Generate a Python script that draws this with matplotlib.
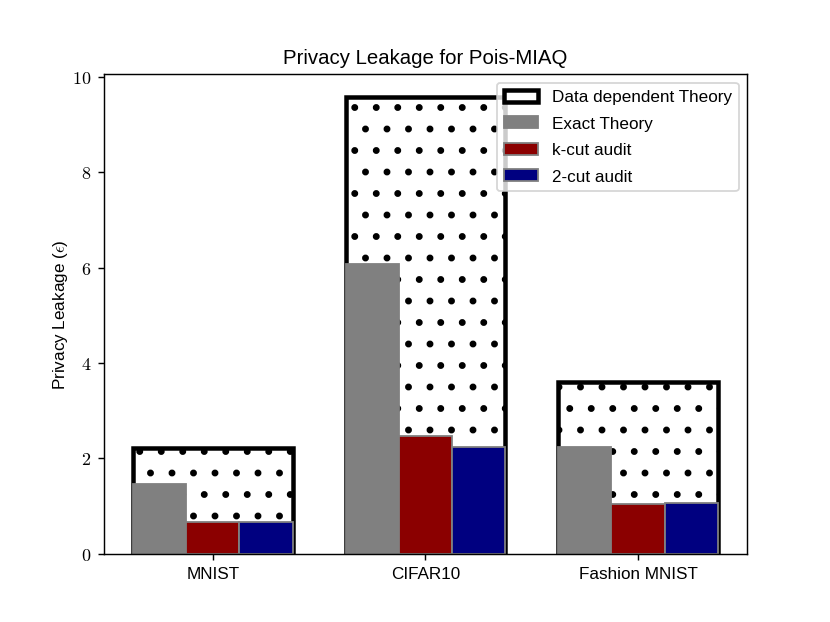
import numpy as np
import matplotlib
matplotlib.use('Agg')
import matplotlib.pyplot as plt
from matplotlib.ticker import FuncFormatter

plt.rcParams['font.family'] = ['Liberation Sans', 'DejaVu Sans']
plt.rcParams['mathtext.fontset'] = 'cm'
plt.rcParams['font.size'] = 9.5
plt.rcParams['hatch.linewidth'] = 1.4

datasets = ['MNIST', 'CIFAR10', 'Fashion MNIST']
data_dep_theory = [2.22, 9.58, 3.60]
exact_theory = [1.45, 6.08, 2.24]
kcut_audit = [0.67, 2.47, 1.03]
twocut_audit = [0.67, 2.24, 1.05]

x = np.arange(len(datasets))
w = 0.25

fig, ax = plt.subplots(figsize=(6.4, 4.8), dpi=129.7)
ax.bar(x, data_dep_theory, 3*w, color='white', edgecolor='black',
       linewidth=2.5, hatch='.', label='Data dependent Theory')
ax.bar(x - w, exact_theory, w, color='grey', edgecolor='grey', label='Exact Theory')
ax.bar(x, kcut_audit, w, color='darkred', edgecolor='grey', label='k-cut audit')
ax.bar(x + w, twocut_audit, w, color='navy', edgecolor='grey', label='2-cut audit')

ax.set_xticks(x)
ax.set_xticklabels(datasets)
ax.yaxis.set_major_formatter(FuncFormatter(lambda v, p: '$%d$' % v))
ax.tick_params(axis='y', labelsize=10)
ax.set_ylabel(r'Privacy Leakage ($\epsilon$)', labelpad=1)
ax.set_title('Privacy Leakage for Pois-MIAQ', fontsize=11.3)
ax.legend(loc='upper right', labelspacing=0.68)

fig.savefig('out.png', dpi=129.7)
